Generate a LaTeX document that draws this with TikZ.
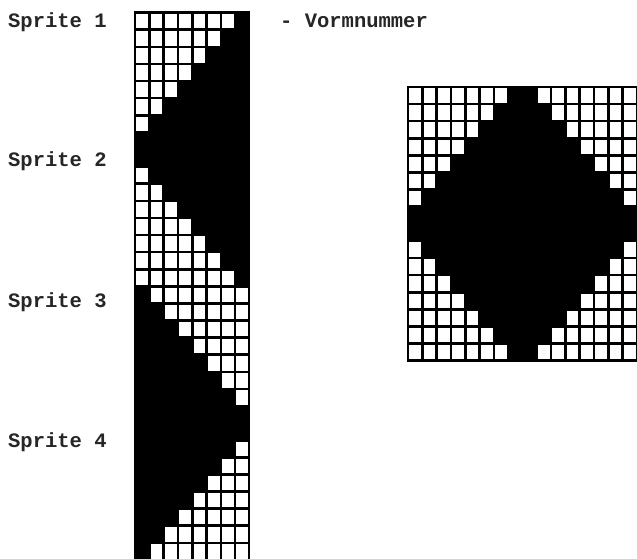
\documentclass[tikz,border=0pt]{standalone}
\usepackage{fontspec}
\newfontfamily\dotfont{Liberation Mono}
\usepackage{tikz}

\tikzset{
    spritelabel/.style={font=\dotfont\bfseries\fontsize{20.5}{20.5}\selectfont,
                        anchor=base west, inner sep=0pt, text=black!85},
    pixel/.style={fill=white},
}
% cell size in px
\newcommand{\cw}{14.3}
\newcommand{\ch}{17.1}
% white cell with black grid line around it
\newcommand{\pixcell}[2]{\fill[pixel] ({#1+1.3},{#2+1.3}) rectangle ++({\cw-2.6},{\ch-2.6});}

\begin{document}
\begin{tikzpicture}[x=1pt, y=-1pt]
    \useasboundingbox (0,0) rectangle (637,559);
    \clip (0,0) rectangle (637,559);
    \fill[white] (0,0) rectangle (637,559);

    % 1. Labels
    \node[spritelabel] (spr1) at (8, 28) {Sprite 1};
    \node[spritelabel] (spr2) at (8, 167) {Sprite 2};
    \node[spritelabel] (spr3) at (8, 307) {Sprite 3};
    \node[spritelabel] (spr4) at (8, 447) {Sprite 4};
    \node[spritelabel] (vorm) at (280, 28) {- Vormnummer};

    % 2. Strip with the four sprites (8 x 32)
    \fill[black] (134,11.5) rectangle ++({8*\cw+2},{32*\ch+2});
    \foreach \s/\ro/\co in {0/0/0, 1/8/0, 2/0/8, 3/8/8} {
        \foreach \r in {0,...,7} {
            \foreach \c in {0,...,7} {
                \pgfmathtruncatemacro\iswhite{abs(\co+\c-7.5)+abs(\ro+\r-7.5)>8}
                \ifnum\iswhite=1
                    \pixcell{135+\c*\cw}{12.7+(\s*8+\r)*\ch}
                \fi
            }
        }
    }

    % 3. Whole shape (16 x 16)
    \fill[black] (407,86) rectangle ++({16*\cw+2},{16*\ch+2});
    \foreach \r in {0,...,15} {
        \foreach \c in {0,...,15} {
            \pgfmathtruncatemacro\iswhite{abs(\c-7.5)+abs(\r-7.5)>8}
            \ifnum\iswhite=1
                \pixcell{408+\c*\cw}{87+\r*\ch}
            \fi
        }
    }

\end{tikzpicture}
\end{document}
